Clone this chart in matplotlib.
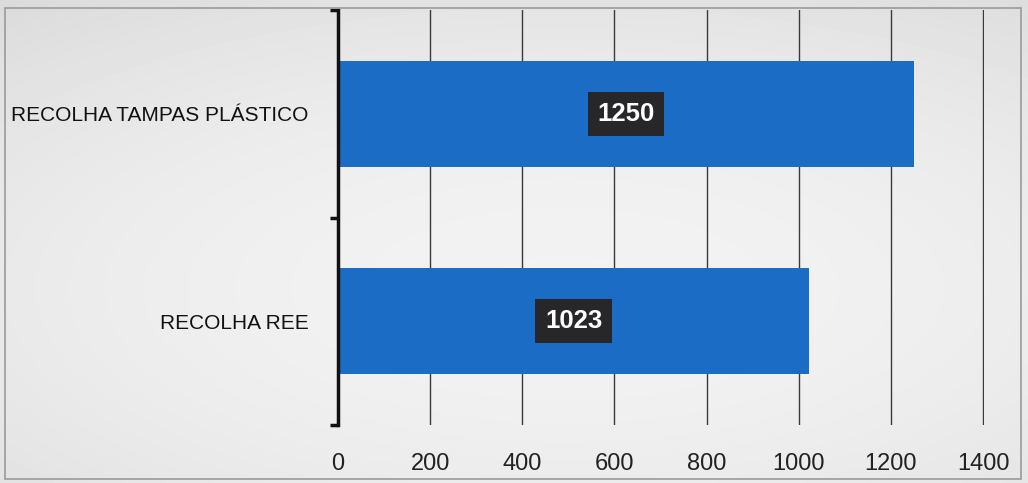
import matplotlib.pyplot as plt
import numpy as np
from matplotlib.patches import Rectangle

# data
categories = ["RECOLHA REE", "RECOLHA TAMPAS PLÁSTICO"]
values = [1023, 1250]
xticks = [0, 200, 400, 600, 800, 1000, 1200, 1400]

plt.rcParams['font.family'] = ['Liberation Sans', 'DejaVu Sans']

fig = plt.figure(figsize=(10.28, 4.83), dpi=100)

# scanned paper look: soft gray gradient behind everything
bg = fig.add_axes([0, 0, 1, 1], zorder=-10)
yy, xx = np.mgrid[0:1:120j, 0:1:240j]
shade = 0.95 - 0.10 * ((xx - 0.55) ** 2 * 1.2 + (yy - 0.6) ** 2 * 1.6)
bg.imshow(shade, cmap='gray', vmin=0, vmax=1, aspect='auto',
          extent=[0, 1, 0, 1], interpolation='bicubic')
bg.axis('off')
fig.patches.append(Rectangle((0.005, 0.008), 0.988, 0.975, transform=fig.transFigure,
                             fill=False, edgecolor='#9a9a9a', lw=1.2))

ax = fig.add_axes([338 / 1028, 1 - 425 / 483, (984 - 338) / 1028, (425 - 10) / 483])
ax.patch.set_alpha(0)

y = np.arange(len(categories))
bars = ax.barh(y, values, height=0.51, color='#1a6cc4', zorder=2)

for b, v in zip(bars, values):
    ax.text(v / 2, b.get_y() + b.get_height() / 2, str(v), ha='center', va='center',
            color='white', fontsize=18.5, fontweight='bold', zorder=4,
            bbox=dict(boxstyle='square,pad=0.38', facecolor='#27272a', edgecolor='none'))

ax.set_xlim(0, 1402)
ax.set_ylim(-0.5, 1.5)
ax.set_xticks(xticks)
ax.set_xticklabels([str(t) for t in xticks], fontsize=17, color='#222222')
ax.tick_params(axis='x', length=0, pad=20)
ax.grid(axis='x', color='#3a3a3a', lw=1.0, zorder=1)

ax.set_yticks(y)
ax.set_yticklabels(categories, fontsize=15, color='#111111')
ax.set_yticks([-0.5, 0.5, 1.5], minor=True)
ax.tick_params(axis='y', which='major', length=0, pad=21)
ax.tick_params(axis='y', which='minor', length=6, width=2.5, color='#111111')

for s in ['top', 'right', 'bottom']:
    ax.spines[s].set_visible(False)
ax.spines['left'].set_linewidth(2.5)
ax.spines['left'].set_color('#111111')

fig.savefig('out.png', dpi=100)
